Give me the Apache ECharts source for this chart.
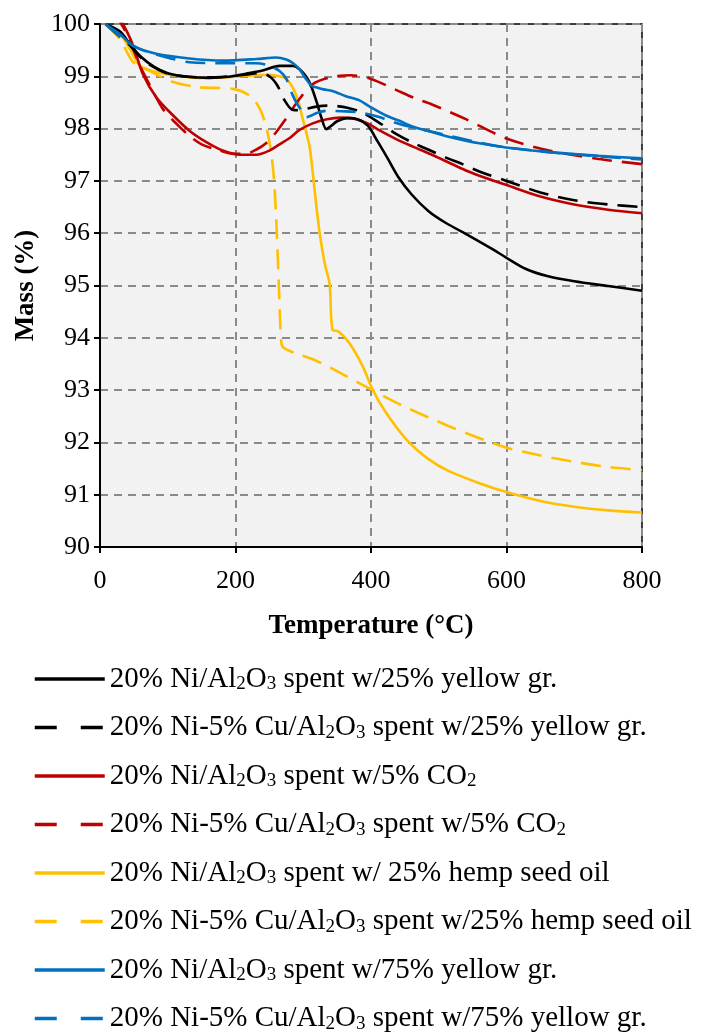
<!DOCTYPE html>
<html>
<head>
<meta charset="utf-8">
<style>
  html, body { margin: 0; padding: 0; background: #fff; }
  #chart { width: 704px; height: 1036px; }
</style>
<script src="https://cdn.jsdelivr.net/npm/echarts@6/dist/echarts.min.js"></script>
</head>
<body>
<div id="chart"></div>
<script>
// Axis ticks
const xTicks = [0, 200, 400, 600, 800];
const yTicks = [90, 91, 92, 93, 94, 95, 96, 97, 98, 99, 100];

// Series names (rich-text markup used for the subscripts)
const seriesNames = [
  '20% Ni/Al{s|2}O{s|3} spent w/25% yellow gr.',
  '20% Ni-5% Cu/Al{s|2}O{s|3} spent w/25% yellow gr.',
  '20% Ni/Al{s|2}O{s|3} spent w/5% CO{s|2}',
  '20% Ni-5% Cu/Al{s|2}O{s|3} spent w/5% CO{s|2}',
  '20% Ni/Al{s|2}O{s|3} spent w/ 25% hemp seed oil',
  '20% Ni-5% Cu/Al{s|2}O{s|3} spent w/25% hemp seed oil',
  '20% Ni/Al{s|2}O{s|3} spent w/75% yellow gr.',
  '20% Ni-5% Cu/Al{s|2}O{s|3} spent w/75% yellow gr.'
];

// Ni/Al2O3, 25% yellow grease
const niYg25Temp = [8, 30, 45, 60, 80, 100, 130, 160, 190, 215, 240, 265, 285, 295, 305, 312, 320, 327, 334, 341, 350, 365, 380, 395, 410, 425, 440, 460, 485, 510, 545, 580, 600, 628, 660, 700, 750, 800];
const niYg25Mass = [100, 99.85, 99.6, 99.38, 99.18, 99.06, 98.99, 98.97, 98.99, 99.05, 99.11, 99.2, 99.2, 99.13, 98.98, 98.8, 98.5, 98.2, 97.99, 98.05, 98.14, 98.2, 98.18, 98.06, 97.75, 97.42, 97.08, 96.74, 96.42, 96.2, 95.95, 95.69, 95.53, 95.32, 95.18, 95.08, 94.99, 94.9];

// Ni-Cu/Al2O3, 25% yellow grease
const niCuYg25Temp = [8, 30, 50, 70, 100, 130, 160, 190, 215, 235, 250, 262, 272, 284, 295, 305, 320, 335, 350, 365, 385, 410, 437, 460, 486, 510, 535, 560, 600, 650, 700, 750, 800];
const niCuYg25Mass = [100, 99.8, 99.5, 99.25, 99.05, 98.99, 98.98, 99.0, 99.03, 99.06, 99.0, 98.82, 98.55, 98.36, 98.35, 98.38, 98.42, 98.44, 98.43, 98.4, 98.32, 98.13, 97.9, 97.74, 97.59, 97.45, 97.32, 97.18, 97.0, 96.78, 96.63, 96.55, 96.5];

// Ni/Al2O3, 5% CO2
const niCo2Temp = [25, 40, 50, 63, 83, 108, 132, 157, 181, 206, 231, 250, 265, 280, 294, 314, 335, 355, 375, 395, 412, 437, 461, 490, 510, 540, 560, 600, 650, 700, 750, 800];
const niCo2Mass = [100.2, 99.85, 99.55, 99.05, 98.6, 98.25, 97.96, 97.74, 97.58, 97.5, 97.5, 97.58, 97.7, 97.82, 97.97, 98.1, 98.18, 98.21, 98.19, 98.1, 97.97, 97.8, 97.66, 97.5, 97.38, 97.2, 97.1, 96.92, 96.7, 96.55, 96.45, 96.38];

// Ni-Cu/Al2O3, 5% CO2
const niCuCo2Temp = [22, 40, 59, 74, 93, 113, 132, 150, 172, 196, 215, 231, 245, 260, 275, 294, 314, 340, 370, 400, 437, 465, 490, 540, 600, 663, 736, 800];
const niCuCo2Mass = [100.2, 99.8, 99.2, 98.82, 98.37, 98.09, 97.86, 97.7, 97.6, 97.52, 97.52, 97.6, 97.72, 97.93, 98.2, 98.56, 98.85, 98.98, 99.02, 98.95, 98.74, 98.58, 98.46, 98.18, 97.81, 97.58, 97.42, 97.32];

// Ni/Al2O3, 25% hemp seed oil
const niHempTemp = [8, 30, 45, 59, 83, 108, 132, 160, 181, 206, 231, 250, 265, 275, 284, 292, 299, 305, 310, 317, 324, 332, 339, 343, 352, 368, 388, 402, 422, 452, 486, 515, 560, 600, 650, 700, 750, 800];
const niHempMass = [100, 99.8, 99.5, 99.2, 99.08, 99.02, 98.98, 98.97, 98.98, 99.0, 99.02, 99.03, 99.0, 98.95, 98.8, 98.55, 98.2, 97.9, 97.6, 96.8, 96.02, 95.4, 95.02, 94.16, 94.12, 93.9, 93.45, 93.02, 92.57, 92.06, 91.67, 91.45, 91.22, 91.05, 90.88, 90.77, 90.7, 90.66];

// Ni-Cu/Al2O3, 25% hemp seed oil
const niCuHempTemp = [8, 30, 49, 74, 108, 147, 196, 221, 235, 245, 252, 257, 261, 264, 267, 270, 290, 314, 340, 363, 402, 447, 515, 560, 600, 650, 700, 750, 800];
const niCuHempMass = [100, 99.7, 99.27, 99.1, 98.89, 98.79, 98.76, 98.63, 98.4, 98.05, 97.6, 97.0, 96.0, 95.0, 94.04, 93.82, 93.7, 93.59, 93.43, 93.27, 93.0, 92.7, 92.31, 92.08, 91.9, 91.75, 91.63, 91.53, 91.47];

// Ni/Al2O3, 75% yellow grease
const niYg75Temp = [8, 30, 49, 83, 132, 181, 231, 260, 275, 285, 294, 304, 312, 319, 330, 343, 363, 383, 398, 422, 442, 461, 491, 510, 540, 560, 599, 663, 736, 800];
const niYg75Mass = [100, 99.8, 99.58, 99.43, 99.34, 99.3, 99.33, 99.36, 99.32, 99.25, 99.14, 98.95, 98.82, 98.79, 98.75, 98.72, 98.62, 98.54, 98.42, 98.25, 98.15, 98.04, 97.93, 97.86, 97.77, 97.72, 97.64, 97.55, 97.48, 97.43];

// Ni-Cu/Al2O3, 75% yellow grease
const niCuYg75Temp = [8, 30, 59, 108, 132, 181, 231, 250, 265, 275, 284, 292, 299, 305, 312, 320, 334, 363, 387, 412, 432, 450, 500, 560, 600, 663, 736, 800];
const niCuYg75Mass = [100, 99.75, 99.52, 99.33, 99.27, 99.25, 99.25, 99.2, 99.1, 98.95, 98.65, 98.45, 98.32, 98.22, 98.25, 98.3, 98.34, 98.33, 98.3, 98.22, 98.13, 98.06, 97.91, 97.73, 97.64, 97.55, 97.47, 97.41];

const BLACK = '#000000', RED = '#C00000', YELLOW = '#FFC000', BLUE = '#0070C0';
const DASH = [20, 10];
const LEGEND_DASH = [22, 24];
const SERIF = 'Liberation Serif';

function pairs(t, m) { return t.map((v, i) => [v, m[i]]); }

const seriesDefs = [
  { t: niYg25Temp,   m: niYg25Mass,   color: BLACK,  dashed: false },
  { t: niCuYg25Temp, m: niCuYg25Mass, color: BLACK,  dashed: true  },
  { t: niCo2Temp,    m: niCo2Mass,    color: RED,    dashed: false },
  { t: niCuCo2Temp,  m: niCuCo2Mass,  color: RED,    dashed: true  },
  { t: niHempTemp,   m: niHempMass,   color: YELLOW, dashed: false },
  { t: niCuHempTemp, m: niCuHempMass, color: YELLOW, dashed: true  },
  { t: niYg75Temp,   m: niYg75Mass,   color: BLUE,   dashed: false },
  { t: niCuYg75Temp, m: niCuYg75Mass, color: BLUE,   dashed: true  }
];

// Draw order: later entries paint on top
const drawOrder = [4, 5, 2, 3, 0, 1, 7, 6];

const series = drawOrder.map(i => {
  const d = seriesDefs[i];
  return {
    name: seriesNames[i],
    type: 'line',
    data: pairs(d.t, d.m),
    showSymbol: false,
    symbol: 'none',
    smooth: 0.3,
    clip: true,
    color: d.color,
    lineStyle: { color: d.color, width: 2.6, type: d.dashed ? DASH : 'solid' },
    z: 3
  };
});

const chart = echarts.init(document.getElementById('chart'), null, { renderer: 'canvas' });
chart.setOption({
  animation: false,
  backgroundColor: '#ffffff',
  grid: {
    left: 100, right: 62, top: 24, bottom: 489,
    show: true, backgroundColor: '#f2f2f2', borderColor: '#000', borderWidth: 1.5
  },
  xAxis: {
    type: 'value', min: xTicks[0], max: xTicks[xTicks.length - 1], interval: 200,
    name: 'Temperature (°C)', nameLocation: 'middle', nameGap: 66,
    nameTextStyle: { fontFamily: SERIF, fontSize: 27, fontWeight: 'bold', color: '#000' },
    axisLine: { show: true, lineStyle: { color: '#000', width: 2 } },
    axisTick: { show: true, inside: false, length: 6, lineStyle: { color: '#000', width: 2 } },
    axisLabel: { fontFamily: SERIF, fontSize: 26, color: '#000', margin: 21 },
    splitLine: { show: true, lineStyle: { color: '#8a8a8a', width: 2, type: [8, 6] } }
  },
  yAxis: {
    type: 'value', min: yTicks[0], max: yTicks[yTicks.length - 1], interval: 1,
    name: 'Mass (%)', nameLocation: 'middle', nameGap: 60, nameRotate: 90,
    nameTextStyle: { fontFamily: SERIF, fontSize: 27, fontWeight: 'bold', color: '#000' },
    axisLine: { show: true, lineStyle: { color: '#000', width: 2 } },
    axisTick: { show: true, inside: false, length: 6, lineStyle: { color: '#000', width: 2 } },
    axisLabel: { fontFamily: SERIF, fontSize: 26, color: '#000', margin: 10 },
    splitLine: { show: true, lineStyle: { color: '#8a8a8a', width: 2, type: [8, 6] } }
  },
  legend: {
    orient: 'vertical', left: 33, top: 664, padding: 0,
    itemWidth: 70, itemHeight: 14, itemGap: 18.5,
    // line-only keys: hide the marker drawn in the middle of the key
    itemStyle: { opacity: 0 },
    data: seriesNames.map((n, i) => ({
      name: n,
      lineStyle: { width: 3.5, type: seriesDefs[i].dashed ? LEGEND_DASH : 'solid' }
    })),
    formatter: n => n,
    textStyle: {
      fontFamily: SERIF, fontSize: 29, color: '#000', lineHeight: 30,
      rich: {
        // subscript: smaller digits pushed down by top padding
        s: { fontFamily: SERIF, fontSize: 19, lineHeight: 14, padding: [11, 0, 0, 0], color: '#000' }
      }
    }
  },
  series: series
});
</script>
</body>
</html>
